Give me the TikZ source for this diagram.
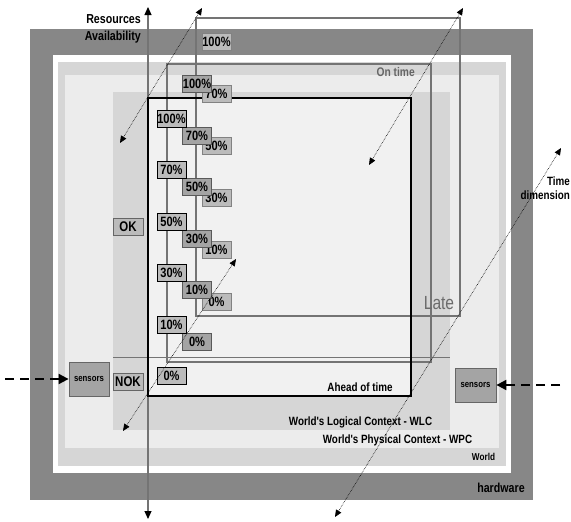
\documentclass[tikz,border=0pt]{standalone}
\usepackage{fontspec}
\setmainfont{Liberation Sans}
\newfontfamily\narrowsans[FakeStretch=0.82]{Liberation Sans}
\usetikzlibrary{arrows.meta}
\definecolor{hwgray}{HTML}{878787}
\definecolor{worldgray}{HTML}{D6D6D6}
\definecolor{wpcgray}{HTML}{ECECEC}
\definecolor{innergray}{HTML}{F1F1F1}
\definecolor{linegray}{HTML}{747474}
\definecolor{boxfill}{HTML}{BBBBBB}
\definecolor{boxdark}{HTML}{A4A4A4}

\begin{document}
\begin{tikzpicture}[x=1pt,y=-1pt,>={Triangle[length=7pt,width=6pt]},
  lbl/.style={font=\narrowsans\bfseries\fontsize{12}{14}\selectfont, inner sep=0pt},
  pct/.style={lbl, font=\narrowsans\bfseries\fontsize{13.5}{14}\selectfont, minimum width=29pt, minimum height=17pt, line width=0.9pt, fill=boxfill},
  sensorbox/.style={draw=black!60, fill=boxdark, line width=0.8pt, minimum width=40pt, minimum height=34pt, inner sep=0pt, font=\narrowsans\bfseries\fontsize{9.5}{10}\selectfont},
  okbox/.style={lbl, font=\narrowsans\bfseries\fontsize{14}{15}\selectfont, draw=black!60, fill=boxfill, line width=0.8pt, minimum width=30pt, minimum height=17pt},
  diag/.style={<->, densely dotted, line width=0.6pt},
  sense/.style={-{Triangle[length=10pt,width=10pt]}, line width=2pt, dash pattern=on 9pt off 6pt}]
\useasboundingbox (0,0) rectangle (571,522);
\fill[hwgray] (30,29) rectangle (533,500);
\fill[white] (53,55) rectangle (511,473);
\fill[worldgray] (58,62) rectangle (506,466);
\fill[wpcgray] (65,75) rectangle (499,448);
\fill[worldgray] (113,92) rectangle (450,430);
\fill[innergray] (148,98) rectangle (411,396);
\draw[linegray, line width=1.2pt] (196,18) rectangle (460,316);
\draw[linegray, line width=1.2pt] (167,64) rectangle (431,362);
\draw[linegray, line width=0.8pt] (113,357) -- (450,357);
\coordinate (ra top) at (148,7);
\coordinate (ra bot) at (148,519);
\draw[<->, linegray, line width=1.2pt, >={Triangle[length=8pt,width=7pt,fill=black,color=black]}] (ra bot) -- (ra top);
\draw[black, line width=1.3pt] (148,98) rectangle (411,396);
\node[lbl, align=right, anchor=east, font=\narrowsans\bfseries\fontsize{13}{17}\selectfont] (resources) at (141,29) {Resources\\Availability};
\node[lbl, text=black!60, anchor=east, font=\narrowsans\bfseries\fontsize{12.5}{14}\selectfont] (ontime) at (415,72) {On time};
\node[lbl, text=black!58, font=\narrowsans\fontsize{19}{21}\selectfont] (late) at (439,303) {Late};
\node[lbl] (ahead) at (360,387) {Ahead of time};
\node[lbl] (wlc) at (360.5,422) {World's Logical Context - WLC};
\node[lbl] (wpc) at (397.5,440) {World's Physical Context - WPC};
\node[lbl, font=\narrowsans\bfseries\fontsize{10}{12}\selectfont] (world) at (483.5,457) {World};
\node[lbl, font=\narrowsans\bfseries\fontsize{13}{15}\selectfont] (hardware) at (501,488) {hardware};
\node[lbl, align=right, anchor=east] (timedim) at (570,188) {Time\\dimension};
\node[okbox] (ok) at (128,227) {OK};
\node[okbox] (nok) at (128,382) {NOK};
\node[sensorbox] (sensleft) at (89,379) {sensors};
\node[sensorbox, minimum width=41pt] (sensright) at (475.5,385) {sensors};
\foreach \v [count=\i from 0] in {100,70,50,30,10,0}
  \node[pct, draw=linegray!90] (late\v) at (216.5,{41.5+52*\i}) {\v\%};
\foreach \v [count=\i from 0] in {100,70,50,30,10,0}
  \node[pct, draw=black!65, fill=boxdark] (ontime\v) at (197,{84+51.5*\i}) {\v\%};
\foreach \v [count=\i from 0] in {100,70,50,30,10,0}
  \node[pct, draw=black] (ahead\v) at (171.5,{118.5+51.5*\i}) {\v\%};
\coordinate (inleft) at (5,379);
\coordinate (inright) at (560,385);
\draw[sense] (inleft) -- (sensleft);
\draw[sense] (inright) -- (sensright);
\coordinate (d1a) at (120,143);
\coordinate (d1b) at (202,8);
\coordinate (d2a) at (369,165);
\coordinate (d2b) at (463,8);
\coordinate (d3a) at (123,431);
\coordinate (d3b) at (236,259);
\coordinate (d4a) at (335,517);
\coordinate (d4b) at (561,148);
\draw[diag] (d1a) -- (d1b);
\draw[diag] (d2a) -- (d2b);
\draw[diag] (d3a) -- (d3b);
\draw[diag] (d4a) -- (d4b);
\end{tikzpicture}
\end{document}
